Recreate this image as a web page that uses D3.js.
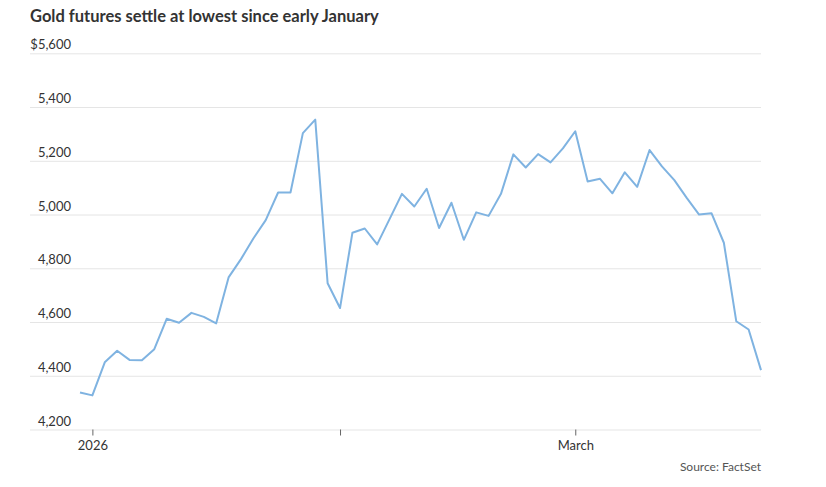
<!DOCTYPE html>
<html>
<head>
<meta charset="utf-8">
<script src="https://cdn.jsdelivr.net/npm/d3@7"></script>
<style>
  html, body { margin: 0; padding: 0; background: #fff; }
  svg { display: block; }
</style>
</head>
<body>
<svg id="chart" width="826" height="487"></svg>
<script>
// ---- Data ----
const dates = [
  "2025-12-31",
  "2026-01-02","2026-01-05","2026-01-06","2026-01-07","2026-01-08","2026-01-09",
  "2026-01-12","2026-01-13","2026-01-14","2026-01-15","2026-01-16",
  "2026-01-20","2026-01-21","2026-01-22","2026-01-23",
  "2026-01-26","2026-01-27","2026-01-28","2026-01-29","2026-01-30",
  "2026-02-02","2026-02-03","2026-02-04","2026-02-05","2026-02-06",
  "2026-02-09","2026-02-10","2026-02-11","2026-02-12","2026-02-13",
  "2026-02-17","2026-02-18","2026-02-19","2026-02-20",
  "2026-02-23","2026-02-24","2026-02-25","2026-02-26","2026-02-27",
  "2026-03-02","2026-03-03","2026-03-04","2026-03-05","2026-03-06",
  "2026-03-09","2026-03-10","2026-03-11","2026-03-12","2026-03-13",
  "2026-03-16","2026-03-17","2026-03-18","2026-03-19","2026-03-20",
  "2026-03-23"
];
const prices = [
  4338,
  4327, 4450, 4493, 4459, 4458, 4499,
  4612, 4597, 4634, 4619, 4595,
  4766, 4834, 4911, 4979,
  5082, 5082, 5303, 5353, 4744,
  4652, 4932, 4948, 4889, 4983,
  5077, 5030, 5096, 4950, 5044,
  4906, 5008, 4995, 5077,
  5224, 5175, 5225, 5194, 5246,
  5310, 5123, 5133, 5079, 5157,
  5103, 5240, 5179, 5128, 5062,
  5000, 5005, 4895, 4603, 4572,
  4421
];
const xTickDates = ["2026-01-02", "2026-02-02", "2026-03-02"];
const xTickLabels = ["2026", "", "March"];
const yTicks = [4200, 4400, 4600, 4800, 5000, 5200, 5400, 5600];
const titleText = "Gold futures settle at lowest since early January";
const sourceText = "Source: FactSet";

// ---- Layout ----
const svg = d3.select("#chart");
const gridLeft = 30, gridRight = 761;
const plotLeft = 80, plotRight = 761;
const yTop = 53.3, yBottom = 429.5;
const font = "Lato, 'Open Sans', sans-serif";

const x = d3.scalePoint().domain(dates).range([plotLeft, plotRight]);
const y = d3.scaleLinear().domain([4200, 5600]).range([yBottom, yTop]);

// Title
svg.append("text")
  .attr("x", 30).attr("y", 22)
  .attr("font-family", font)
  .attr("font-weight", 700)
  .attr("font-size", 16.5)
  .attr("fill", "#333")
  .text(titleText);

// Y axis with gridlines
const fmt = d3.format(",");
const yAxis = d3.axisRight(y)
  .tickValues(yTicks)
  .tickSize(gridRight - gridLeft)
  .tickFormat(d => d === 5600 ? "$" + fmt(d) : fmt(d));
const gy = svg.append("g")
  .attr("transform", `translate(${gridLeft},0)`)
  .call(yAxis);
gy.select(".domain").remove();
gy.selectAll(".tick line").attr("stroke", "#e5e5e5").attr("stroke-width", 1);
gy.selectAll(".tick text")
  .attr("x", 41)
  .attr("dy", -4.5)
  .attr("text-anchor", "end")
  .attr("font-family", font)
  .attr("font-size", 13)
  .attr("fill", "#333");

// X axis
const xAxis = d3.axisBottom(x)
  .tickValues(xTickDates)
  .tickSize(6)
  .tickPadding(5)
  .tickFormat((d, i) => xTickLabels[i]);
const gx = svg.append("g")
  .attr("transform", `translate(0,${yBottom})`)
  .call(xAxis);
gx.select(".domain").remove();
gx.selectAll(".tick line").attr("stroke", "#666").attr("stroke-width", 1);
gx.selectAll(".tick text")
  .attr("font-family", font)
  .attr("font-size", 13)
  .attr("fill", "#333");

// Line
const line = d3.line()
  .x((d, i) => x(dates[i]))
  .y(d => y(d));
svg.append("path")
  .datum(prices)
  .attr("fill", "none")
  .attr("stroke", "#7fb3e1")
  .attr("stroke-width", 2)
  .attr("stroke-linejoin", "round")
  .attr("d", line);

// Source
svg.append("text")
  .attr("x", gridRight).attr("y", 471)
  .attr("text-anchor", "end")
  .attr("font-family", font)
  .attr("font-size", 12)
  .attr("fill", "#555")
  .text(sourceText);
</script>
</body>
</html>
